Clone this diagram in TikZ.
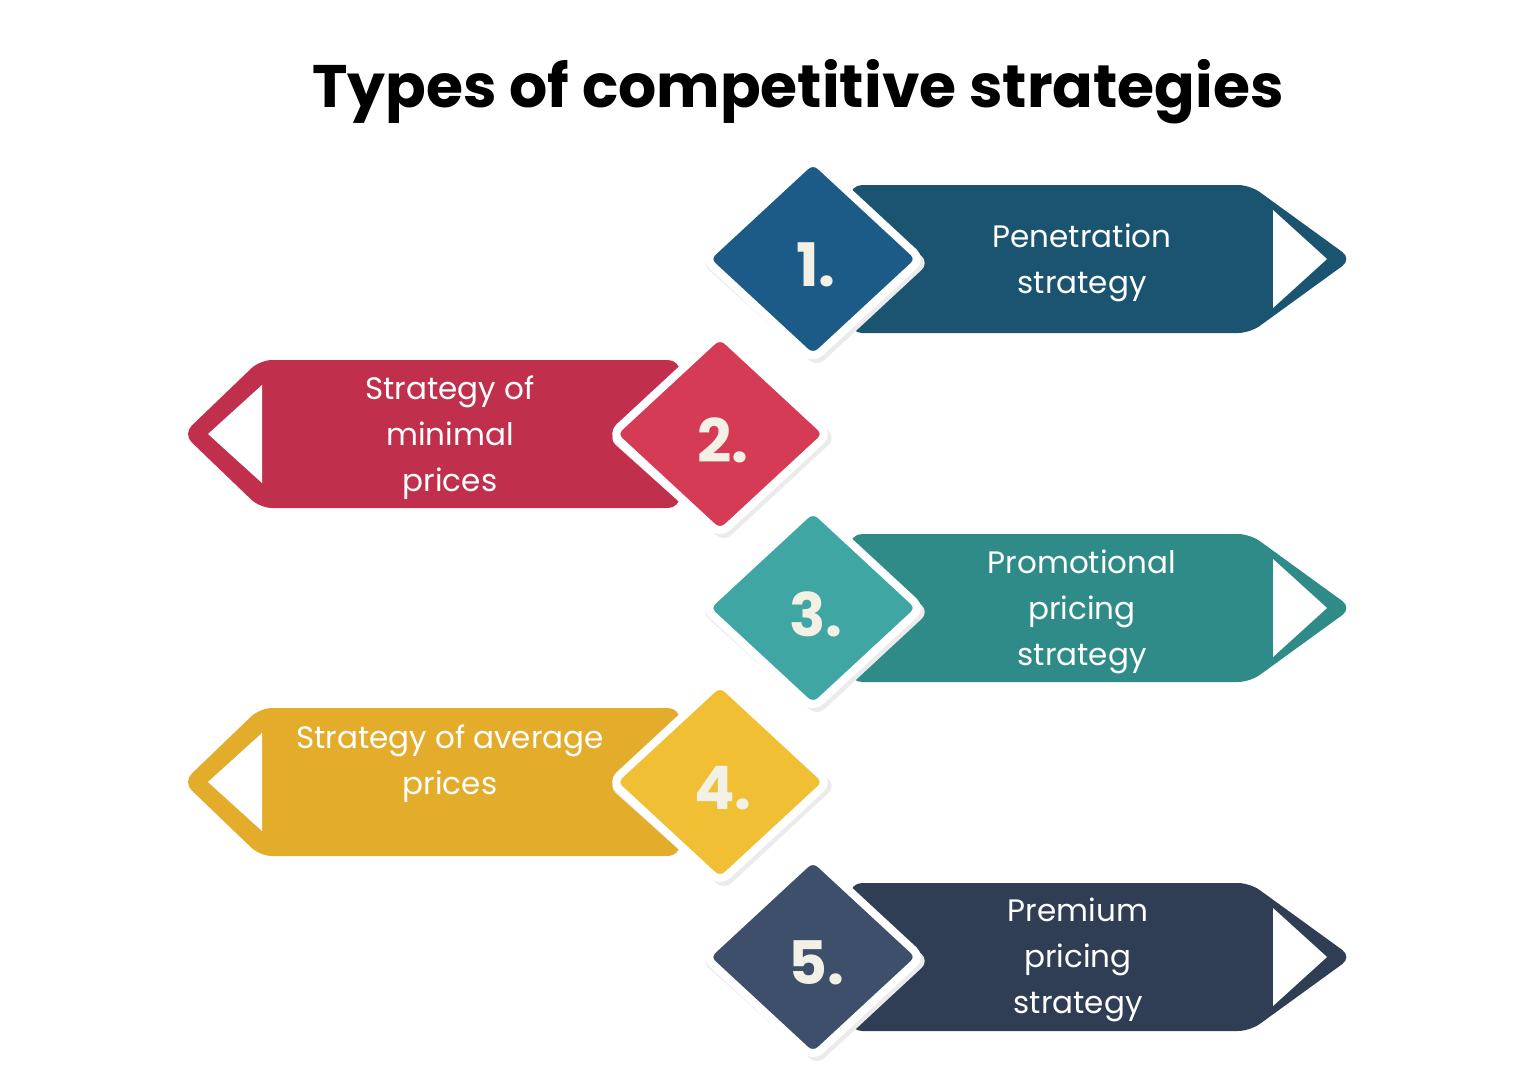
\documentclass[tikz,border=0pt]{standalone}
\usepackage{fontspec}
\setmainfont{Poppins}
\definecolor{bA}{HTML}{1B5470}\definecolor{dA}{HTML}{1C5A87}
\definecolor{bB}{HTML}{C0304C}\definecolor{dB}{HTML}{D63B55}
\definecolor{bC}{HTML}{2E8B87}\definecolor{dC}{HTML}{3FA6A3}
\definecolor{bD}{HTML}{E3AC2A}\definecolor{dD}{HTML}{F0BF33}
\definecolor{bE}{HTML}{2F3E55}\definecolor{dE}{HTML}{3D4F6A}
\definecolor{numc}{HTML}{F3F0E6}
\tikzset{lbl/.style={text=white,align=center,font=\fontsize{31}{46}\selectfont},
 num/.style={text=numc,font=\fontsize{60}{60}\selectfont\bfseries},
 ttl/.style={font=\fontsize{60}{60}\selectfont\bfseries}}
\newcommand{\rbanner}[3]{% y center, colour, name
 \fill[#2,rounded corners=12] (850,#1-74) -- (1250,#1-74) -- (1352,#1) -- (1250,#1+74) -- (850,#1+74) -- cycle;
 \fill[white] (1273,#1-49) -- (1327,#1) -- (1273,#1+49) -- cycle;}
\newcommand{\lbanner}[3]{%
 \fill[#2,rounded corners=12] (680,#1-74) -- (260,#1-74) -- (183,#1) -- (260,#1+74) -- (680,#1+74) -- cycle;
 \fill[white] (262,#1-49) -- (208,#1) -- (262,#1+49) -- cycle;}
\newcommand{\dia}[4]{% x,y,colour,text
 \fill[black!8,rounded corners=10] (#1-112,#2+4) -- (#1+4,#2-100) -- (#1+116,#2+4) -- (#1+4,#2+108) -- cycle;
 \filldraw[#3,draw=white,line width=8,rounded corners=10] (#1-108,#2) -- (#1,#2-100) -- (#1+108,#2) -- (#1,#2+100) -- cycle;
 \node[num] at (#1+3,#2+6) {#4};}
\begin{document}
\begin{tikzpicture}[x=1pt,y=-1pt]
\useasboundingbox (0,0) rectangle (1536,1090);
\node[ttl] (title) at (798,92) {Types of competitive strategies};
\rbanner{259}{bA}{a}\dia{813}{259}{dA}{1.}
\node[lbl] (t1) at (1082,263) {Penetration\\strategy};
\lbanner{434}{bB}{b}\dia{720}{434}{dB}{2.}
\node[lbl] (t2) at (450,438) {Strategy of\\minimal\\prices};
\rbanner{608}{bC}{c}\dia{813}{608}{dC}{3.}
\node[lbl] (t3) at (1082,612) {Promotional\\pricing\\strategy};
\lbanner{782}{bD}{d}\dia{720}{782}{dD}{4.}
\node[lbl] (t4) at (450,764) {Strategy of average\\prices};
\rbanner{957}{bE}{e}\dia{813}{957}{dE}{5.}
\node[lbl] (t5) at (1078,960) {Premium\\pricing\\strategy};
\end{tikzpicture}
\end{document}
